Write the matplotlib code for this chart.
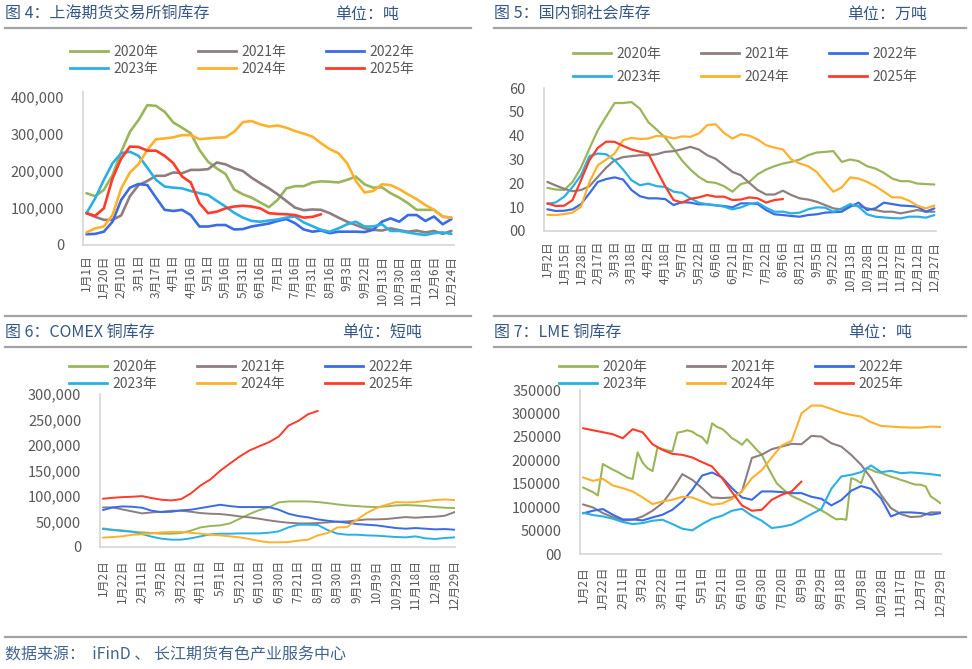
import numpy as np
import matplotlib
matplotlib.use("Agg")
import matplotlib.pyplot as plt
from matplotlib.lines import Line2D

plt.rcParams['font.family'] = ['Noto Sans CJK SC', 'DejaVu Sans']

W, H = 972, 669

years = ['2020年', '2021年', '2022年', '2023年', '2024年', '2025年']
colors = ['#9BB55A', '#8E7F7F', '#3A6CE6', '#2BB0E6', '#FDB12C', '#FF3B2A']

# 图4 上期所铜库存, 千吨, 每半个刻度一个点
shfe_dates = ['1月1日', '1月20日', '2月10日', '3月1日', '3月17日', '4月1日', '4月16日', '5月1日',
              '5月16日', '5月31日', '6月16日', '7月1日', '7月16日', '7月31日', '8月16日', '9月3日',
              '9月22日', '10月13日', '10月30日', '11月18日', '12月6日', '12月24日']
shfe_2020 = [140, 132, 149, 189, 252, 306, 338, 378, 376, 360, 331, 317, 302, 257, 225, 207, 192, 150,
             137, 128, 115, 102, 122, 153, 159, 159, 169, 172, 171, 169, 176, 185, 164, 155, 156, 140,
             128, 113, 95, 95, 95, 77, 74]
shfe_2021 = [86, 76, 68, 68, 80, 132, 162, 173, 187, 187, 196, 194, 203, 203, 205, 223, 218, 207, 200,
             182, 167, 153, 137, 119, 101, 94, 96, 95, 86, 74, 63, 54, 45, 41, 39, 45, 40, 36, 39, 34,
             38, 30, 38]
shfe_2022 = [29, 30, 36, 63, 122, 155, 165, 162, 128, 95, 92, 95, 81, 50, 50, 54, 54, 42, 43, 50, 54,
             58, 65, 70, 59, 42, 36, 39, 32, 36, 36, 36, 35, 41, 63, 72, 63, 81, 81, 65, 77, 56, 70]
shfe_2023 = [86, 126, 176, 221, 248, 252, 241, 209, 176, 158, 155, 153, 146, 140, 135, 119, 104, 87,
             74, 65, 63, 66, 69, 74, 77, 61, 51, 41, 36, 45, 56, 63, 50, 50, 56, 38, 38, 34, 30, 27,
             32, 34, 30]
shfe_2024 = [34, 45, 50, 81, 153, 196, 219, 257, 286, 288, 291, 297, 297, 286, 288, 290, 291, 306,
             332, 335, 326, 320, 323, 317, 308, 301, 293, 275, 259, 248, 221, 173, 142, 146, 164, 162,
             151, 137, 124, 108, 95, 76, 74]
shfe_2025 = [86, 79, 99, 180, 234, 266, 265, 255, 255, 241, 221, 185, 169, 113, 86, 90, 99, 104, 106,
             104, 99, 86, 84, 83, 81, 74, 76, 83]

# 图5 国内铜社会库存, 万吨
dom_dates = ['1月2日', '1月15日', '1月28日', '2月17日', '3月3日', '3月18日', '4月2日', '4月18日',
             '5月7日', '5月22日', '6月6日', '6月21日', '7月7日', '7月22日', '8月6日', '8月21日',
             '9月5日', '9月22日', '10月13日', '10月28日', '11月12日', '11月27日', '12月12日', '12月27日']
dom_2020 = [18.1, 17.4, 17.2, 20.6, 26.6, 34.6, 42.3, 48.1, 53.7, 53.7, 54.1, 51.3, 45.7, 42.5, 39.2,
            34.6, 29.6, 25.8, 22.7, 20.6, 20.2, 18.8, 16.5, 19.7, 20.6, 23.8, 25.8, 27.2, 28.3, 29.0,
            30.0, 31.8, 32.9, 33.2, 33.5, 29.0, 30.0, 29.3, 27.2, 26.2, 24.4, 22.0, 20.9, 20.9, 19.9,
            19.7, 19.5]
dom_2021 = [20.6, 19.1, 17.7, 16.7, 17.2, 18.8, 22.7, 26.6, 29.7, 31.0, 31.4, 31.8, 31.8, 32.2, 33.2,
            33.5, 34.3, 35.3, 34.2, 31.8, 30.3, 27.6, 24.8, 23.4, 20.2, 17.2, 15.3, 15.3, 16.9, 15.1,
            13.7, 13.2, 12.3, 10.9, 9.5, 9.0, 10.7, 10.5, 9.5, 8.8, 8.1, 8.1, 7.4, 8.1, 8.8, 8.1, 8.1]
dom_2022 = [9.1, 8.4, 8.5, 9.1, 11.3, 15.8, 20.6, 21.8, 22.5, 21.6, 17.2, 14.6, 13.7, 13.7, 13.4, 10.9,
            12.1, 11.9, 11.2, 11.2, 10.7, 10.5, 9.9, 11.6, 11.6, 11.3, 8.8, 7.0, 6.7, 6.3, 6.0, 6.7,
            7.0, 7.7, 7.9, 8.1, 10.2, 11.9, 8.8, 9.5, 11.9, 11.3, 10.7, 10.5, 10.2, 8.1, 9.5]
dom_2023 = [11.4, 12.0, 14.4, 18.5, 23.4, 31.4, 32.5, 32.2, 29.7, 25.8, 21.3, 19.2, 19.9, 18.8, 18.5,
            16.5, 16.0, 13.7, 11.9, 11.2, 10.9, 10.2, 9.1, 9.9, 11.3, 11.9, 9.8, 8.1, 8.1, 7.4, 7.7,
            9.1, 9.9, 9.8, 8.1, 9.5, 11.3, 10.2, 7.0, 6.0, 5.7, 5.4, 5.3, 6.0, 6.0, 5.6, 6.7]
dom_2024 = [6.8, 6.7, 7.1, 7.7, 10.2, 20.6, 27.6, 30.0, 32.5, 38.1, 39.1, 38.6, 38.8, 39.9, 39.7, 38.8,
            39.7, 39.5, 40.9, 44.4, 44.8, 41.1, 38.8, 40.6, 40.0, 38.4, 36.0, 35.0, 34.2, 30.0, 28.3,
            27.2, 24.8, 20.6, 16.5, 18.3, 22.5, 22.0, 20.6, 18.8, 16.5, 14.1, 14.1, 12.7, 10.6, 9.5, 10.7]
dom_2025 = [11.6, 10.5, 10.6, 13.0, 21.3, 29.7, 34.9, 37.5, 37.4, 35.7, 34.2, 33.3, 32.5, 25.5, 18.8,
            13.0, 11.9, 13.5, 14.1, 15.1, 14.4, 14.4, 13.0, 13.2, 14.1, 13.7, 11.9, 13.0, 13.4]

# 图6 COMEX铜库存, 千短吨
comex_dates = ['1月2日', '1月22日', '2月11日', '3月2日', '3月22日', '4月11日', '5月1日', '5月21日',
               '6月10日', '6月30日', '7月21日', '8月10日', '8月30日', '9月19日', '10月9日', '10月29日',
               '11月18日', '12月8日', '12月29日']
comex_2020 = [36.5, 33.9, 32.6, 30.0, 28.7, 27.4, 26.1, 26.1, 27.4, 32.0, 38.5, 41.1, 42.4, 46.3, 55.4,
              64.6, 72.4, 77.6, 87.4, 89.4, 89.4, 89.4, 88.1, 86.1, 83.5, 81.5, 80.2, 78.9, 78.3, 79.6,
              81.5, 82.2, 81.5, 80.2, 78.3, 77.0, 76.3]
comex_2021 = [77.6, 77.6, 73.7, 69.8, 65.9, 67.8, 69.1, 71.1, 71.1, 69.1, 66.5, 65.2, 64.6, 62.6, 60.0,
              58.1, 55.4, 52.2, 49.6, 47.6, 46.3, 46.3, 47.0, 48.3, 49.6, 50.2, 52.2, 54.1, 54.1, 54.8,
              56.8, 58.7, 57.4, 58.7, 59.4, 61.3, 68.5]
comex_2022 = [72.4, 77.6, 79.6, 78.9, 77.0, 71.1, 68.5, 69.1, 71.8, 73.1, 76.3, 79.6, 82.8, 80.2, 78.3,
              78.3, 78.3, 78.3, 73.1, 65.2, 60.7, 58.1, 54.1, 51.5, 49.6, 47.6, 45.0, 43.7, 42.4, 39.8,
              37.2, 35.9, 37.2, 35.9, 34.6, 35.2, 33.9]
comex_2023 = [35.2, 33.3, 31.3, 30.0, 25.4, 20.2, 16.3, 14.4, 14.4, 17.0, 20.9, 24.8, 26.1, 26.1, 26.7,
              26.7, 26.7, 28.0, 30.7, 38.5, 43.7, 43.7, 43.1, 33.3, 26.1, 24.1, 24.1, 22.8, 22.2, 20.9,
              19.6, 18.9, 20.9, 17.0, 15.7, 17.6, 18.9]
comex_2024 = [18.3, 19.6, 20.9, 24.1, 24.8, 26.7, 28.7, 29.4, 29.4, 28.0, 26.1, 24.1, 22.8, 20.9, 18.9,
              15.7, 11.7, 9.1, 9.1, 9.8, 12.4, 14.4, 22.8, 27.4, 38.5, 39.1, 53.5, 66.5, 76.3, 82.8,
              88.1, 87.4, 88.1, 90.0, 92.0, 93.3, 92.0]
comex_2025 = [94.6, 96.5, 97.8, 98.5, 99.8, 95.9, 92.6, 91.3, 93.9, 105.0, 120.7, 132.4, 149.4, 163.7,
              177.4, 189.2, 197.6, 205.5, 216.6, 238.1, 247.2, 260.3, 266.8]

# 图7 LME铜库存, 千吨 (2020年每四分之一刻度一个点, 其余每半个刻度)
lme_dates = ['1月2日', '1月22日', '2月11日', '3月2日', '3月22日', '4月11日', '5月1日', '5月21日',
             '6月10日', '6月30日', '7月20日', '8月9日', '8月29日', '9月18日', '10月8日', '10月28日',
             '11月17日', '12月7日', '12月29日']
lme_2020 = [142, 137, 132, 125, 192, 186, 180, 175, 169, 163, 160, 217, 195, 183, 177, 227, 224, 221,
            219, 259, 261, 264, 261, 254, 249, 236, 279, 271, 267, 258, 247, 241, 233, 245, 234, 222,
            212, 190, 170, 151, 141, 132, 124, 119, 114, 109, 104, 98, 93, 87, 80, 74, 75, 73, 162,
            158, 151, 183, 180, 175, 173, 169, 165, 162, 158, 155, 151, 148, 148, 144, 123, 116, 108]
lme_2021 = [105.8, 99.4, 87.3, 78.8, 71.0, 73.1, 80.2, 92.3, 108.6, 137.0, 170.4, 158.3, 140.6, 120.7,
            119.3, 120.7, 133.0, 205.0, 212.0, 223.7, 229.3, 235.0, 234.3, 252.1, 250.6, 236.4, 229.3,
            211.6, 190.3, 161.9, 126.4, 98.0, 85.2, 78.8, 80.2, 88.8, 88.8]
lme_2022 = [86.6, 92.3, 95.9, 83.8, 73.8, 73.8, 71.7, 78.1, 83.8, 94.4, 112.2, 137.0, 167.6, 174.0,
            163.3, 140.6, 120.7, 115.7, 133.5, 133.5, 132.1, 129.9, 129.9, 122.1, 117.9, 103.7, 115.0,
            135.0, 145.0, 139.0, 119.0, 80.0, 88.8, 88.8, 87.3, 83.8, 87.3]
lme_2023 = [88.0, 83.1, 80.2, 75.3, 68.2, 63.9, 66.0, 71.0, 73.1, 63.9, 54.0, 50.4, 63.9, 75.3, 81.7,
            92.3, 96.6, 81.7, 71.0, 55.4, 58.2, 62.5, 73.1, 85.2, 95.9, 139.2, 165.4, 169.0, 174.7,
            188.9, 174.7, 177.5, 172.5, 174.0, 172.5, 170.4, 167.6]
lme_2024 = [163.3, 156.2, 160.5, 146.3, 140.6, 133.5, 120.7, 106.5, 112.2, 115.7, 122.1, 120.7, 112.2,
            105.1, 107.9, 117.2, 133.5, 161.9, 178.9, 205.9, 231.5, 241.4, 300.3, 316.7, 316.7, 309.6,
            301.8, 296.8, 293.2, 281.2, 273.4, 271.9, 270.5, 269.8, 269.8, 271.9, 271.2]
lme_2025 = [268.4, 264.1, 259.9, 255.6, 247.1, 266.3, 259.9, 234.3, 222.2, 213.7, 211.6, 205.9, 196.0,
            186.7, 161.9, 132.1, 103.7, 92.3, 94.4, 115.7, 126.4, 133.5, 154.8]

title_color = '#365683'
rule_color = '#A3A3A3'
tick_color = '#595959'

fig = plt.figure(figsize=(W / 100, H / 100), dpi=100)


def px_axes(left, top, right, bottom):
    return fig.add_axes([left / W, 1 - bottom / H, (right - left) / W, (bottom - top) / H])


def rule(x0, x1, y):
    fig.add_artist(Line2D([x0 / W, x1 / W], [1 - y / H, 1 - y / H], color=rule_color, lw=1.6))


def header(x0, x1, title, unit, unit_x, y_title, y_rule):
    fig.text(x0 / W, 1 - y_title / H, title, ha='left', va='center', fontsize=11.5, color=title_color)
    fig.text(unit_x / W, 1 - y_title / H, unit, ha='left', va='center', fontsize=11.5, color=title_color)
    rule(x0, x1, y_rule)


def panel(ax, series, steps, dates, xlim, ylim, yticks, ylabels, lw, xpad):
    for vals, step, c in zip(series, steps, colors):
        x = np.arange(len(vals)) * step
        ax.plot(x, vals, color=c, lw=lw, solid_joinstyle='round', solid_capstyle='round')
    ax.set_xlim(*xlim)
    ax.set_ylim(*ylim)
    ax.set_xticks(range(len(dates)))
    ax.set_xticklabels(dates, rotation=90)
    ax.set_yticks(yticks)
    ax.set_yticklabels(ylabels)
    ax.tick_params(axis='both', length=0, colors=tick_color)
    ax.tick_params(axis='x', labelsize=8.5, pad=xpad)
    ax.tick_params(axis='y', labelsize=10.5, pad=13.5)
    for s in ['top', 'right']:
        ax.spines[s].set_visible(False)
    for s in ['left', 'bottom']:
        ax.spines[s].set_color('#D9D9D9')
        ax.spines[s].set_linewidth(1.3)


def legend(x, y_top, pitch_rows):
    order = [0, 3, 1, 4, 2, 5]
    handles = [Line2D([], [], color=colors[i], lw=2) for i in order]
    labels = [years[i] for i in order]
    fig.legend(handles, labels, loc='upper left', bbox_to_anchor=(x / W, 1 - y_top / H), ncol=3,
               frameon=False, borderpad=0, borderaxespad=0, fontsize=10, labelcolor=tick_color,
               handlelength=2.75, handletextpad=0.38, columnspacing=2.85, labelspacing=pitch_rows)


# 图4
ax1 = px_axes(83, 92, 454, 245)
panel(ax1, [[v * 1000 for v in s] for s in [shfe_2020, shfe_2021, shfe_2022, shfe_2023, shfe_2024, shfe_2025]],
      [0.5] * 6, shfe_dates, (-0.2, 21.15), (0, 413500),
      [0, 100000, 200000, 300000, 400000], ['0', '100,000', '200,000', '300,000', '400,000'], 1.9, 7)
header(5, 471, '图 4：上海期货交易所铜库存', '单位：吨', 335, 14, 27.5)
rule(5, 471, 316)
legend(70, 45, 0.22)

# 图5
ax2 = px_axes(544, 88, 936, 231)
panel(ax2, [dom_2020, dom_2021, dom_2022, dom_2023, dom_2024, dom_2025],
      [0.5] * 6, dom_dates, (-0.2, 23.1), (0, 60),
      [0, 10, 20, 30, 40, 50, 60], ['00', '10', '20', '30', '40', '50', '60'], 1.6, 7)
header(494, 966, '图 5：国内铜社会库存', '单位：万吨', 847, 14, 27.5)
rule(494, 966, 316)
legend(573, 47, 0.62)

# 图6
ax3 = px_axes(100, 394, 455, 547)
panel(ax3, [[v * 1000 for v in s] for s in [comex_2020, comex_2021, comex_2022, comex_2023, comex_2024, comex_2025]],
      [0.5] * 6, comex_dates, (-0.15, 18.02), (0, 300000),
      list(range(0, 300001, 50000)), ['0', '50,000', '100,000', '150,000', '200,000', '250,000', '300,000'],
      1.4, 9)
header(5, 471, '图 6：COMEX 铜库存', '单位：短吨', 342, 332, 347)
legend(69, 360, 0.22)

# 图7
ax4 = px_axes(580, 390, 941, 554)
panel(ax4, [[v * 1000 for v in s] for s in [lme_2020, lme_2021, lme_2022, lme_2023, lme_2024, lme_2025]],
      [0.25] + [0.5] * 5, lme_dates, (-0.15, 18.02), (0, 350000),
      list(range(0, 350001, 50000)), ['00', '50000', '100000', '150000', '200000', '250000', '300000', '350000'],
      1.5, 8.5)
header(494, 966, '图 7：LME 铜库存', '单位：吨', 848, 332, 347)
legend(559, 360, 0.22)

rule(5, 966, 637)
fig.text(5 / W, 1 - 655 / H, '数据来源：  iFinD 、 长江期货有色产业服务中心', ha='left', va='center',
         fontsize=11.5, color='#44648E')

fig.savefig('out.png', dpi=100, facecolor='white')
